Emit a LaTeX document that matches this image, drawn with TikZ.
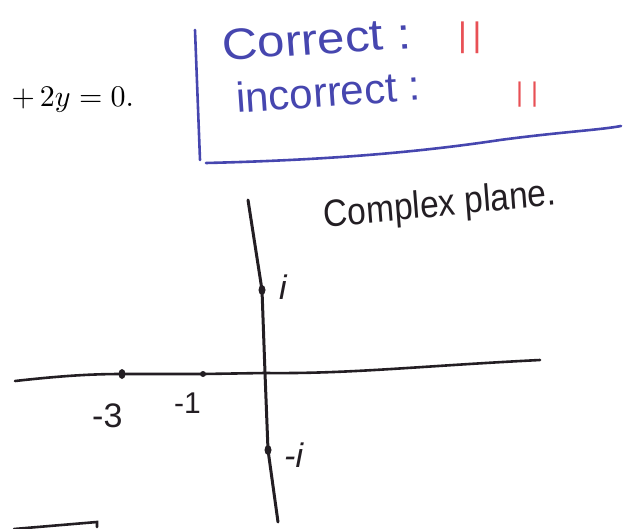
\documentclass[tikz,border=0pt]{standalone}
\usepackage{fontspec}
\newfontfamily\hand{Liberation Sans}
\definecolor{pen}{RGB}{70,70,175}
\definecolor{redpen}{RGB}{232,80,85}
\definecolor{ink}{RGB}{35,30,35}
\tikzset{
  bluestroke/.style={draw=pen, line width=2.6pt, line cap=round},
  axisline/.style={draw=ink, line width=3pt, line cap=round},
  handtxt/.style={inner sep=0pt, anchor=west, font=\hand},
  dotmark/.style={ellipse, fill=ink, inner sep=0pt, minimum width=7pt, minimum height=10pt},
  smalldot/.style={circle, fill=ink, inner sep=0pt, minimum size=6pt},
}
\usetikzlibrary{shapes.geometric}
\begin{document}
\begin{tikzpicture}[x=1pt,y=-1pt]
\useasboundingbox (0,0) rectangle (631,529);
% equation fragment
\node[anchor=west, inner sep=0pt, scale=3.0] (eq) at (11,100) {$+\,2y=0.$};
% blue bracket
\coordinate (bt) at (195,30);
\coordinate (bb) at (200,160);
\coordinate (hl) at (206,163);
\coordinate (hr) at (621,126);
\draw[bluestroke] (bt) -- (bb);
\draw[bluestroke] (hl) .. controls (330,160) and (420,152) .. (500,140) .. controls (560,132) and (600,130) .. (hr);
% blue/red texts
\node[handtxt, text=pen, font=\hand\fontsize{44}{44}\selectfont, xscale=1.12, rotate=4] (corr) at (222,45) {Correct :};
\node[handtxt, text=redpen, font=\hand\fontsize{34}{34}\selectfont] (c1) at (458,38) {|\,|};
\node[handtxt, text=pen, font=\hand\fontsize{42}{42}\selectfont, xscale=1.0, rotate=4] (inc) at (236,98) {incorrect :};
\node[handtxt, text=redpen, font=\hand\fontsize{27}{27}\selectfont] (c2) at (516,95) {|\hspace{8pt}|};
% complex plane label
\node[handtxt, text=ink, font=\hand\fontsize{38}{38}\selectfont, xscale=0.88, rotate=5] (cp) at (324,218) {Complex plane.};
% axes
\coordinate (vt) at (248,200);
\coordinate (vb) at (278,522);
\coordinate (hL) at (15,381);
\coordinate (hR) at (540,360);
\draw[axisline] (vt) -- (262,290) -- (265,373) -- (268,450) -- (vb);
\draw[axisline, line width=2.6pt] (hL) .. controls (60,376) and (90,374) .. (122,374) -- (203,374) -- (265,373) .. controls (350,374) and (420,366) .. (hR);
% points
\node[dotmark] (m3) at (122,374) {};
\node[smalldot] (m1) at (203,374) {};
\node[dotmark] (pi) at (262,290) {};
\node[dotmark] (ni) at (268,450) {};
% labels
\node[handtxt, text=ink, font=\hand\fontsize{34}{34}\selectfont] (l3) at (92,416) {-3};
\node[handtxt, text=ink, font=\hand\fontsize{30}{30}\selectfont] (l1) at (174,403) {-1};
\node[handtxt, text=ink, font=\hand\itshape\fontsize{34}{34}\selectfont] (li) at (279,287) {i};
\node[handtxt, text=ink, font=\hand\itshape\fontsize{34}{34}\selectfont] (lni) at (284,455) {-i};
% bottom-left stroke
\coordinate (sl) at (14,529);
\coordinate (sr) at (97,522);
\draw[axisline, line width=2.6pt] (sl) -- (sr) -- ++(0,5);
\end{tikzpicture}
\end{document}
